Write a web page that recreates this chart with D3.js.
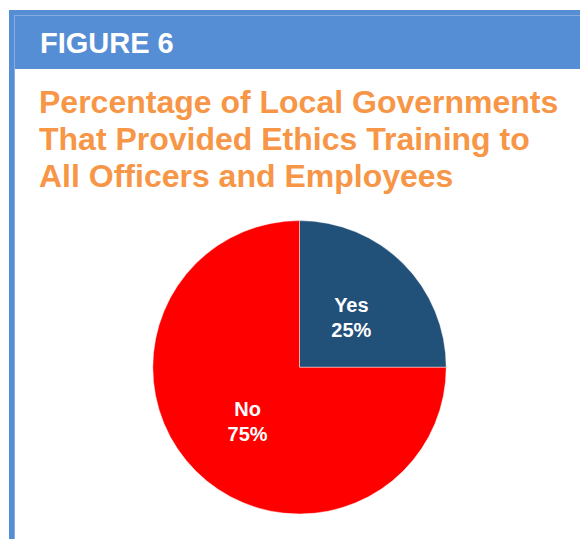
<!DOCTYPE html>
<html>
<head>
<meta charset="utf-8">
<script src="https://cdn.jsdelivr.net/npm/d3@7"></script>
<style>
  html, body { margin: 0; padding: 0; background: #ffffff; }
  svg { display: block; }
</style>
</head>
<body>
<svg id="chart" width="580" height="539"></svg>
<script>
// Survey answers and their shares (percent)
const categories = ["Yes", "No"];
const values = [25, 75];
const sliceColors = ["#215078", "#ff0000"];
const titleLines = [
  "Percentage of Local Governments",
  "That Provided Ethics Training to",
  "All Officers and Employees"
];
const figureLabel = "FIGURE 6";

const svg = d3.select("#chart");
const W = 580, H = 539;
const font = "'Liberation Sans', Arial, Helvetica, sans-serif";
const frameBlue = "#558ed5";
const frameLight = "#86ace2";

// Frame: left rail and header band
svg.append("rect").attr("x", 9).attr("y", 10).attr("width", W - 9).attr("height", H - 10)
  .attr("fill", frameBlue);
svg.append("rect").attr("x", 15).attr("y", 69).attr("width", W - 15).attr("height", H - 69)
  .attr("fill", "#ffffff");
// thin inner highlight lines
svg.append("line").attr("x1", 14.5).attr("x2", 14.5).attr("y1", 15).attr("y2", H)
  .attr("stroke", frameLight).attr("stroke-width", 1);
svg.append("line").attr("x1", 14.5).attr("x2", W).attr("y1", 15.5).attr("y2", 15.5)
  .attr("stroke", frameLight).attr("stroke-width", 1);

svg.append("text")
  .attr("x", 40).attr("y", 53)
  .attr("font-family", font).attr("font-weight", "bold").attr("font-size", 29)
  .attr("fill", "#ffffff")
  .text(figureLabel);

// Title
svg.append("g").selectAll("text")
  .data(titleLines)
  .join("text")
  .attr("x", 39)
  .attr("y", (d, i) => 113 + i * 37)
  .attr("font-family", font).attr("font-weight", "bold").attr("font-size", 32)
  .attr("fill", "#f79646")
  .text(d => d);

// Pie
const cx = 299.5, cy = 367.3, radius = 146.7;
const data = categories.map((c, i) => ({ label: c, value: values[i], color: sliceColors[i] }));

const pie = d3.pie().value(d => d.value).sort(null);
const arc = d3.arc().innerRadius(0).outerRadius(radius);
const labelArc = d3.arc().innerRadius(0).outerRadius(radius);

const g = svg.append("g").attr("transform", `translate(${cx},${cy})`);
const arcs = pie(data);

g.selectAll("path")
  .data(arcs)
  .join("path")
  .attr("d", arc)
  .attr("fill", d => d.data.color)
  .attr("stroke", "rgba(255,255,255,0.55)")
  .attr("stroke-width", 0.8);

const labels = g.selectAll("text.slice-label")
  .data(arcs)
  .join("text")
  .attr("class", "slice-label")
  .attr("transform", d => `translate(${labelArc.centroid(d)})`)
  .attr("text-anchor", "middle")
  .attr("font-family", font).attr("font-weight", "bold").attr("font-size", 20)
  .attr("fill", "#ffffff");

labels.append("tspan").attr("x", 0).attr("y", -3).text(d => d.data.label);
labels.append("tspan").attr("x", 0).attr("y", 22).text(d => d.data.value + "%");
</script>
</body>
</html>
